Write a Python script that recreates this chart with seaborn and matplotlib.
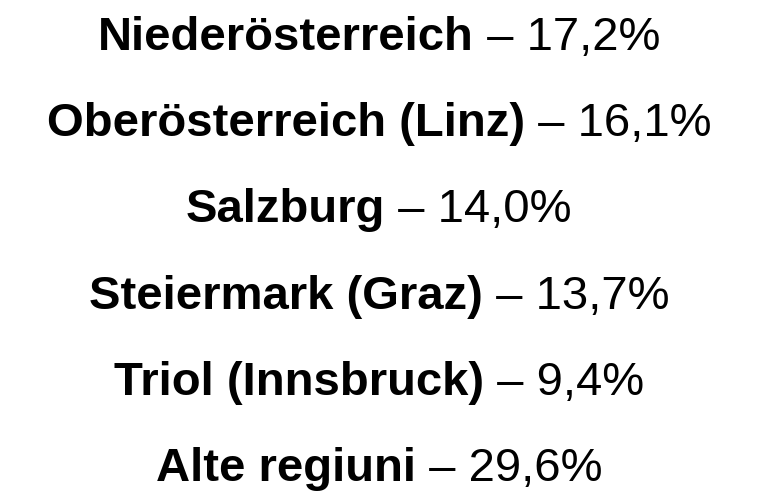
import matplotlib
matplotlib.use('Agg')
import matplotlib.pyplot as plt
import seaborn as sns

# date
regions = ['Niederösterreich', 'Oberösterreich (Linz)', 'Salzburg',
           'Steiermark (Graz)', 'Triol (Innsbruck)', 'Alte regiuni']
shares = [17.2, 16.1, 14.0, 13.7, 9.4, 29.6]

sns.set_theme(style='white')
plt.rcParams['font.family'] = ['Liberation Sans', 'DejaVu Sans']

fig = plt.figure(figsize=(7.58, 4.92), dpi=100)
ax = fig.add_axes([0, 0, 1, 1])
ax.set_xlim(0, 758)
ax.set_ylim(492, 0)
ax.axis('off')

renderer = fig.canvas.get_renderer()
for i, (r, s) in enumerate(zip(regions, shares)):
    y = 50 + 86.2 * i
    label = ' – ' + f'{s:.1f}'.replace('.', ',') + '%'
    bold = ax.text(0, y, r, fontsize=34, fontweight='bold', va='baseline', ha='left', color='black')
    rest = ax.text(0, y, label, fontsize=34, va='baseline', ha='left', color='black')
    wb = bold.get_window_extent(renderer).width
    wr = rest.get_window_extent(renderer).width
    x0 = 379 - (wb + wr) / 2
    bold.set_x(x0)
    rest.set_x(x0 + wb)

fig.savefig('out.png', dpi=100)
